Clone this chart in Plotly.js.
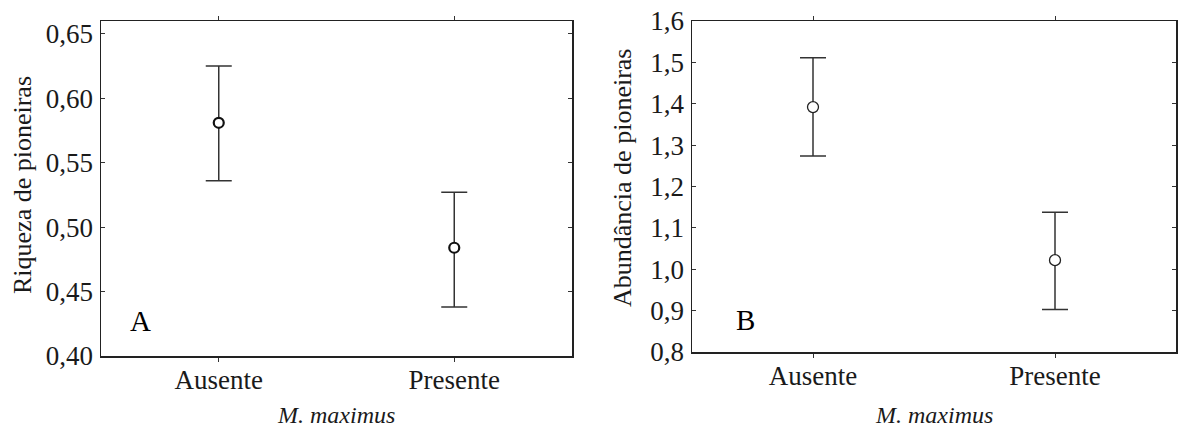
<!DOCTYPE html>
<html>
<head>
<meta charset="utf-8">
<script src="https://cdn.plot.ly/plotly-3.0.1.min.js"></script>
<style>
html,body{margin:0;padding:0;background:#fff;}
#chart{width:1178px;height:427px;}
</style>
</head>
<body>
<div id="chart"></div>
<script>
// Data
const categories = ["Ausente", "Presente"];
const riquezaMean = [0.581, 0.484];
const riquezaUpper = [0.625, 0.527];
const riquezaLower = [0.536, 0.438];
const abundMean = [1.392, 1.022];
const abundUpper = [1.511, 1.138];
const abundLower = [1.274, 0.903];
const xTitle = "M. maximus";
const yTitleA = "Riqueza de pioneiras";
const yTitleB = "Abundância de pioneiras";
const panelLabels = ["A", "B"];

const W = 1178, H = 427;
const fx = p => p / W;
const fy = p => 1 - p / H;

const font = "Liberation Serif";
const ink = "#1a1a1a";

function errTrace(mean, up, lo, xa, ya, mk) {
  return {
    type: "scatter", mode: "markers",
    x: categories, y: mean, xaxis: xa, yaxis: ya,
    marker: mk,
    error_y: {
      type: "data", symmetric: false,
      array: up.map((u, i) => u - mean[i]),
      arrayminus: lo.map((l, i) => mean[i] - l),
      color: "#333", thickness: 1.5, width: 13
    },
    showlegend: false, hoverinfo: "skip"
  };
}

const traces = [
  errTrace(riquezaMean, riquezaUpper, riquezaLower, "x", "y",
    {symbol: "circle", size: 10, color: "#fff", line: {color: "#111", width: 2.2}}),
  errTrace(abundMean, abundUpper, abundLower, "x2", "y2",
    {symbol: "circle", size: 11, color: "#fff", line: {color: "#222", width: 1.3}})
];

const axCommon = {
  showgrid: false, zeroline: false, showline: true, mirror: "ticks",
  linecolor: "#222", linewidth: 1.5,
  ticks: "inside", ticklen: 4, tickcolor: "#333", tickwidth: 1,
  tickfont: {family: font, size: 27, color: ink}
};

const layout = {
  width: W, height: H,
  margin: {l: 0, r: 0, t: 0, b: 0},
  paper_bgcolor: "#fff", plot_bgcolor: "#fff",
  font: {family: font, color: ink},
  separators: ", ",
  showlegend: false,
  xaxis: Object.assign({}, axCommon, {
    domain: [fx(101), fx(572)], anchor: "y", type: "category",
    range: [-0.5, 1.5], ticks: "outside", ticklabelstandoff: -5
  }),
  yaxis: Object.assign({}, axCommon, {
    domain: [fy(356), fy(21)], anchor: "x",
    range: [0.40, 0.66], dtick: 0.05, tick0: 0.40, tickformat: ".2f",
    ticklabelstandoff: 1
  }),
  xaxis2: Object.assign({}, axCommon, {
    domain: [fx(692), fx(1176)], anchor: "y2", type: "category",
    range: [-0.5, 1.5], ticks: "outside", ticklabelstandoff: -5
  }),
  yaxis2: Object.assign({}, axCommon, {
    domain: [fy(352), fy(21)], anchor: "x2",
    range: [0.8, 1.6], dtick: 0.1, tick0: 0.8, tickformat: ".1f",
    ticklabelstandoff: 1
  }),
  annotations: [
    {text: yTitleA, xref: "paper", yref: "paper", x: fx(22), y: fy(185),
     textangle: -90, showarrow: false, font: {family: font, size: 26, color: ink},
     xanchor: "center", yanchor: "middle"},
    {text: yTitleB, xref: "paper", yref: "paper", x: fx(622), y: fy(178),
     textangle: -90, showarrow: false, font: {family: font, size: 26, color: ink},
     xanchor: "center", yanchor: "middle"},
    {text: "<i>" + xTitle + "</i>", xref: "paper", yref: "paper", x: fx(336), y: fy(415),
     showarrow: false, font: {family: font, size: 24, color: ink},
     xanchor: "center", yanchor: "middle"},
    {text: "<i>" + xTitle + "</i>", xref: "paper", yref: "paper", x: fx(934), y: fy(415),
     showarrow: false, font: {family: font, size: 24, color: ink},
     xanchor: "center", yanchor: "middle"},
    {text: panelLabels[0], xref: "paper", yref: "paper", x: fx(140), y: fy(321),
     showarrow: false, font: {family: font, size: 29, color: "#000"},
     xanchor: "center", yanchor: "middle"},
    {text: panelLabels[1], xref: "paper", yref: "paper", x: fx(745), y: fy(320),
     showarrow: false, font: {family: font, size: 29, color: "#000"},
     xanchor: "center", yanchor: "middle"}
  ]
};

Plotly.newPlot("chart", traces, layout, {displayModeBar: false, staticPlot: true});
</script>
</body>
</html>
